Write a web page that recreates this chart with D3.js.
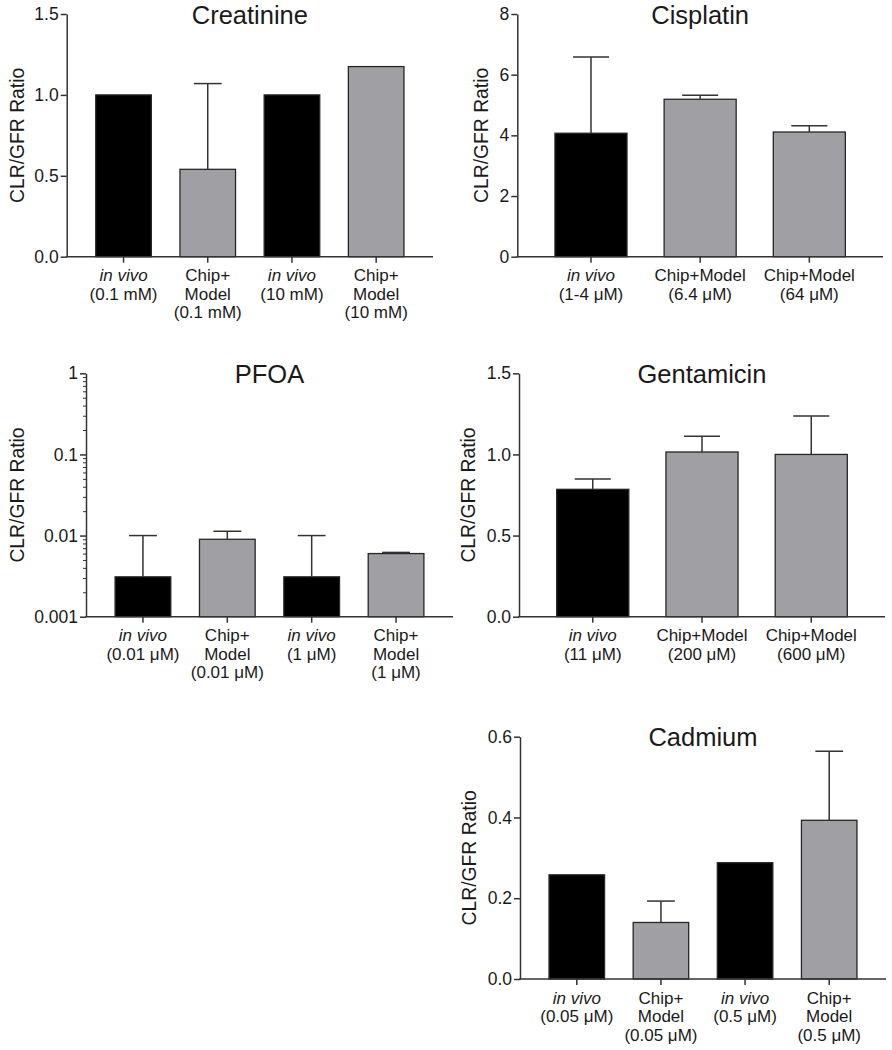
<!DOCTYPE html>
<html><head><meta charset="utf-8">
<script src="https://cdn.jsdelivr.net/npm/d3@7"></script>
<style>
body{margin:0;background:#fff}
svg{display:block}
text{font-family:"Liberation Sans",Arial,sans-serif;fill:#1a1a1a}
</style>
</head><body>
<svg id="c" width="892" height="1050"></svg>
<script>
// ---------- DATA ----------
const creatinineLabels = [["in vivo","(0.1 mM)"],["Chip+","Model","(0.1 mM)"],["in vivo","(10 mM)"],["Chip+","Model","(10 mM)"]];
const creatinineGroups = ["vivo","chip","vivo","chip"];
const creatinineValues = [1.0, 0.54, 1.0, 1.175];
const creatinineErrors = [0, 0.53, 0, 0];
const creatinineTicks = [0, 0.5, 1.0, 1.5];

const cisplatinLabels = [["in vivo","(1-4 μM)"],["Chip+Model","(6.4 μM)"],["Chip+Model","(64 μM)"]];
const cisplatinGroups = ["vivo","chip","chip"];
const cisplatinValues = [4.07, 5.19, 4.11];
const cisplatinErrors = [2.51, 0.13, 0.21];
const cisplatinTicks = [0, 2, 4, 6, 8];

const pfoaLabels = [["in vivo","(0.01 μM)"],["Chip+","Model","(0.01 μM)"],["in vivo","(1 μM)"],["Chip+","Model","(1 μM)"]];
const pfoaGroups = ["vivo","chip","vivo","chip"];
const pfoaValues = [0.0031, 0.0090, 0.0031, 0.0060];
const pfoaErrors = [0.0069, 0.0023, 0.0069, 0.0002];
const pfoaTicks = [0.001, 0.01, 0.1, 1];

const gentamicinLabels = [["in vivo","(11 μM)"],["Chip+Model","(200 μM)"],["Chip+Model","(600 μM)"]];
const gentamicinGroups = ["vivo","chip","chip"];
const gentamicinValues = [0.785, 1.015, 1.0];
const gentamicinErrors = [0.064, 0.097, 0.237];
const gentamicinTicks = [0, 0.5, 1.0, 1.5];

const cadmiumLabels = [["in vivo","(0.05 μM)"],["Chip+","Model","(0.05 μM)"],["in vivo","(0.5 μM)"],["Chip+","Model","(0.5 μM)"]];
const cadmiumGroups = ["vivo","chip","vivo","chip"];
const cadmiumValues = [0.258, 0.140, 0.288, 0.393];
const cadmiumErrors = [0, 0.053, 0, 0.171];
const cadmiumTicks = [0, 0.2, 0.4, 0.6];

const titles = ["Creatinine","Cisplatin","PFOA","Gentamicin","Cadmium"];
const yAxisTitle = "CLR/GFR Ratio";

// ---------- LAYOUT ----------
const panels = [
  {title:titles[0], labels:creatinineLabels, groups:creatinineGroups, values:creatinineValues, errors:creatinineErrors, ticks:creatinineTicks, fmt:d3.format(".1f"),
   x0:66.7, x1:433, yTop:14, yBot:256.7, titleY:23.5, ylabX:23.5},
  {title:titles[1], labels:cisplatinLabels, groups:cisplatinGroups, values:cisplatinValues, errors:cisplatinErrors, ticks:cisplatinTicks, fmt:d3.format("d"),
   x0:517.3, x1:883, yTop:14, yBot:256.7, titleY:23.5, ylabX:488},
  {title:titles[2], labels:pfoaLabels, groups:pfoaGroups, values:pfoaValues, errors:pfoaErrors, ticks:pfoaTicks, fmt:d=>String(d), log:true,
   x0:86, x1:453, yTop:373.3, yBot:616.7, titleY:383, ylabX:23.5},
  {title:titles[3], labels:gentamicinLabels, groups:gentamicinGroups, values:gentamicinValues, errors:gentamicinErrors, ticks:gentamicinTicks, fmt:d3.format(".1f"),
   x0:519, x1:885, yTop:373.3, yBot:616.7, titleY:383, ylabX:475},
  {title:titles[4], labels:cadmiumLabels, groups:cadmiumGroups, values:cadmiumValues, errors:cadmiumErrors, ticks:cadmiumTicks, fmt:d3.format(".1f"),
   x0:520, x1:886, yTop:736.7, yBot:979, titleY:746, ylabX:475.5}
];

const fills = {vivo:"#000000", chip:"#a0a0a4"};
const axisColor = "#333";
const svg = d3.select("#c");

panels.forEach(p => {
  const g = svg.append("g");
  const n = p.values.length;
  const x = d3.scaleBand().domain(d3.range(n)).range([p.x0, p.x1]).paddingInner(0.34).paddingOuter(0.345);
  const y = p.log
    ? d3.scaleLog().domain([p.ticks[0], p.ticks[p.ticks.length-1]]).range([p.yBot, p.yTop])
    : d3.scaleLinear().domain([0, p.ticks[p.ticks.length-1]]).range([p.yBot, p.yTop]);
  const bw = x.bandwidth();
  const cap = bw * 0.5;

  // bars
  g.selectAll("rect.bar").data(p.values).join("rect")
    .attr("x", (d,i) => x(i))
    .attr("y", d => y(d))
    .attr("width", bw)
    .attr("height", d => p.yBot - y(d))
    .attr("fill", (d,i) => fills[p.groups[i]])
    .attr("stroke", "#262626").attr("stroke-width", 1.3);

  // error bars
  p.values.forEach((v,i) => {
    const e = p.errors[i];
    if (!e) return;
    const cx = x(i) + bw/2;
    g.append("line").attr("x1",cx).attr("x2",cx).attr("y1",y(v)).attr("y2",y(v+e))
      .attr("stroke","#333").attr("stroke-width",1.5);
    g.append("line").attr("x1",cx-cap/2).attr("x2",cx+cap/2).attr("y1",y(v+e)).attr("y2",y(v+e))
      .attr("stroke","#333").attr("stroke-width",1.5);
  });

  // y axis
  const ya = g.append("g").attr("transform",`translate(${p.x0},0)`)
    .call(d3.axisLeft(y).tickValues(p.ticks).tickFormat(p.fmt).tickSize(6).tickSizeOuter(0).tickPadding(2));
  ya.select(".domain").attr("stroke",axisColor).attr("stroke-width",1.5);
  ya.selectAll(".tick line").attr("stroke",axisColor).attr("stroke-width",1.5);
  ya.selectAll(".tick text").attr("font-size",17.5).attr("font-family","Liberation Sans, Arial, sans-serif").attr("fill","#1a1a1a");

  if (p.log) {
    const minors = [];
    for (let k = 0; k < p.ticks.length-1; k++)
      for (let m = 2; m <= 9; m++) minors.push(p.ticks[k]*m);
    const ym = g.append("g").attr("transform",`translate(${p.x0},0)`)
      .call(d3.axisLeft(y).tickValues(minors).tickFormat("").tickSize(3).tickSizeOuter(0));
    ym.select(".domain").remove();
    ym.selectAll(".tick line").attr("stroke",axisColor).attr("stroke-width",1);
  }

  // x axis
  const xa = g.append("g").attr("transform",`translate(0,${p.yBot})`);
  xa.append("line").attr("x1",p.x0-0.75).attr("x2",p.x1).attr("stroke",axisColor).attr("stroke-width",1.5);
  xa.selectAll("line.xt").data(d3.range(n)).join("line")
    .attr("x1",i=>x(i)+bw/2).attr("x2",i=>x(i)+bw/2).attr("y1",0).attr("y2",6)
    .attr("stroke",axisColor).attr("stroke-width",1.5);

  // category labels
  p.labels.forEach((lines,i) => {
    const cx = x(i) + bw/2;
    lines.forEach((t,j) => {
      g.append("text").attr("x",cx).attr("y",p.yBot + 24.5 + j*18.5)
        .attr("text-anchor","middle").attr("font-size",17)
        .attr("font-style", t === "in vivo" ? "italic" : "normal")
        .text(t);
    });
  });

  // title
  g.append("text").attr("x",(p.x0+p.x1)/2).attr("y",p.titleY)
    .attr("text-anchor","middle").attr("font-size",25.5).text(p.title);

  // y label
  g.append("text").attr("transform",`translate(${p.ylabX},${(p.yTop+p.yBot)/2}) rotate(-90) scale(0.92,1)`)
    .attr("text-anchor","middle").attr("font-size",21).text(yAxisTitle);
});
</script>
</body></html>
